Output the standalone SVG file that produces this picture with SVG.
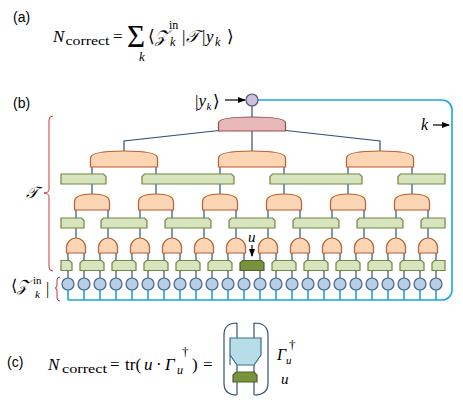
<svg xmlns="http://www.w3.org/2000/svg" width="463" height="405" viewBox="0 0 463 405">
<style>
.ln{fill:none;stroke:#34506f;stroke-width:1.2}
.cy{fill:none;stroke:#1aa7e0;stroke-width:1.6}
.br{fill:none;stroke:#c8383a;stroke-width:1}
.or{fill:#fcd5b5;stroke:#b8612a;stroke-width:1.2}
.gr{fill:#d7e4bd;stroke:#6f8a3e;stroke-width:1.2}
.dg{fill:#77933c;stroke:#4f6228;stroke-width:1.2}
.pk{fill:#e6b9b8;stroke:#9b4b4a;stroke-width:1.2}
.ci{fill:#b9cde5;stroke:#41648f;stroke-width:1.2}
.pu{fill:#ccc1da;stroke:#5f497a;stroke-width:1.2}
.tb{fill:#b7dde8;stroke:#3d6f8a;stroke-width:1.2}
.ar{fill:none;stroke:#000;stroke-width:1.2}
.s{font-family:"Liberation Sans","DejaVu Sans",sans-serif;font-size:14px;fill:#000}
.m{font-family:"Liberation Serif","DejaVu Serif",serif;font-style:italic;fill:#000}
.r{font-family:"Liberation Serif","DejaVu Serif",serif;fill:#000}
</style>
<defs>
<marker id="ah" markerUnits="userSpaceOnUse" markerWidth="8" markerHeight="6" refX="7" refY="3" orient="auto"><path d="M0,0L8,3L0,6Z" fill="#000"/></marker>
</defs>

<!-- (a) -->
<g id="label-a">
<text class="s" x="13" y="22">(a)</text>
<text class="m" x="53" y="42" font-size="17">N</text>
<text class="r" x="65.5" y="45" font-size="13" textLength="44" lengthAdjust="spacingAndGlyphs">correct</text>
<text class="r" x="113" y="42" font-size="17">=</text>
<text class="r" x="127" y="47" font-size="31">Σ</text>
<text class="m" x="139" y="61" font-size="13">k</text>
<text class="r" x="148" y="42" font-size="17">⟨</text>
<text class="m" x="155" y="42" font-size="17">𝒵</text>
<text class="r" x="169" y="29" font-size="12">in</text>
<text class="m" x="170" y="45.5" font-size="12">k</text>
<text class="r" x="182" y="42" font-size="17">|</text>
<text class="m" x="186" y="42" font-size="17">𝒯</text>
<text class="r" x="202" y="42" font-size="17">|</text>
<text class="m" x="206" y="42" font-size="17">y</text>
<text class="m" x="215" y="45.5" font-size="12">k</text>
<text class="r" x="227" y="42" font-size="17">⟩</text>
</g>

<!-- (b) labels -->
<g id="label-b">
<text class="s" x="13" y="108">(b)</text>
<text class="r" x="195" y="107" font-size="17">|</text>
<text class="m" x="198.5" y="106" font-size="17">y</text>
<text class="m" x="206.5" y="110" font-size="11">k</text>
<text class="r" x="213" y="107" font-size="17">⟩</text>
<path class="ar" d="M225,100H245" marker-end="url(#ah)"/>
<text class="m" x="421" y="130" font-size="16">k</text>
<path class="ar" d="M433,125H449" marker-end="url(#ah)"/>
<text class="m" x="26" y="198" font-size="16">𝒯</text>
<text class="r" x="11" y="291" font-size="16">⟨</text>
<text class="m" x="17" y="291" font-size="16">𝒵</text>
<text class="r" x="33" y="284" font-size="11">in</text>
<text class="m" x="35" y="298" font-size="11">k</text>
<text class="r" x="46" y="294" font-size="16">|</text>
<text class="m" x="248" y="242" font-size="15">u</text>
<path class="ar" d="M252,245V256" marker-end="url(#ah)"/>
<path class="br" d="M53,116Q49,116 49,120V189Q49,193 44,193Q49,193 49,197V267Q49,271 53,271"/>
<path class="br" d="M60,277Q57,277 57,280V285Q57,288 55,288Q57,288 57,291V298Q57,301 60,301"/>
</g>

<!-- connectors -->
<g id="connectors">
<path class="cy" d="M258,100H442A10,10 0 0 1 452,110V290A10,10 0 0 1 442,300H68 M68,290V300 M84,290V300 M100,290V300 M116,290V300 M132,290V300 M148,290V300 M164,290V300 M180,290V300 M196,290V300 M212,290V300 M228,290V300 M244,290V300 M260,290V300 M276,290V300 M292,290V300 M308,290V300 M324,290V300 M340,290V300 M356,290V300 M372,290V300 M388,290V300 M404,290V300 M420,290V300 M436,290V300"/>
<path class="ln" d="M68,246V284 M84,246V284 M100,246V284 M116,246V284 M132,246V284 M148,246V284 M164,246V284 M180,246V284 M196,246V284 M212,246V284 M228,246V284 M244,246V284 M260,246V284 M276,246V284 M292,246V284 M308,246V284 M324,246V284 M340,246V284 M356,246V284 M372,246V284 M388,246V284 M404,246V284 M420,246V284 M436,246V284"/>
<path class="ln" d="M76,202V246 M108,202V246 M140,202V246 M172,202V246 M204,202V246 M236,202V246 M268,202V246 M300,202V246 M332,202V246 M364,202V246 M396,202V246 M428,202V246"/>
<path class="ln" d="M92,160V202 M156,160V202 M220,160V202 M284,160V202 M348,160V202 M412,160V202"/>
<path class="ln" d="M124,160V141L219,130.5 M252,160V100 M380,160V141L286,130.5"/>
</g>

<!-- layer 5 green (top wide) -->
<g id="g5-0"><path class="gr" d="M61,184V174H103.5L106,176.5V184Z"/></g>
<g id="g5-1"><path class="gr" d="M142,184V176.5L144.5,174H231.5L234,176.5V184Z"/></g>
<g id="g5-2"><path class="gr" d="M270,184V176.5L272.5,174H359.5L362,176.5V184Z"/></g>
<g id="g5-3"><path class="gr" d="M398,184V176.5L400.5,174H445V184Z"/></g>

<!-- large isometries -->
<g id="w6-0"><path class="or" d="M90.5,167V158C90.5,153.5 102,151 124,151C146,151 157.5,153.5 157.5,158V167Z"/></g>
<g id="w6-1"><path class="or" d="M218.5,167V158C218.5,153.5 230,151 252,151C274,151 285.5,153.5 285.5,158V167Z"/></g>
<g id="w6-2"><path class="or" d="M346.5,167V158C346.5,153.5 358,151 380,151C402,151 413.5,153.5 413.5,158V167Z"/></g>

<!-- top -->
<g id="top"><path class="pk" d="M218.5,131V123C218.5,119 230,117 252,117C274,117 285.5,119 285.5,123V131Z"/></g>
<g id="yk"><circle class="pu" cx="252" cy="100" r="6"/></g>

<!-- medium isometries -->
<g id="w4-0"><path class="or" d="M74.5,210V202C74.5,197 80,194 92,194C104,194 109.5,197 109.5,202V210Z"/></g>
<g id="w4-1"><path class="or" d="M138.5,210V202C138.5,197 144,194 156,194C168,194 173.5,197 173.5,202V210Z"/></g>
<g id="w4-2"><path class="or" d="M202.5,210V202C202.5,197 208,194 220,194C232,194 237.5,197 237.5,202V210Z"/></g>
<g id="w4-3"><path class="or" d="M266.5,210V202C266.5,197 272,194 284,194C296,194 301.5,197 301.5,202V210Z"/></g>
<g id="w4-4"><path class="or" d="M330.5,210V202C330.5,197 336,194 348,194C360,194 365.5,197 365.5,202V210Z"/></g>
<g id="w4-5"><path class="or" d="M394.5,210V202C394.5,197 400,194 412,194C424,194 429.5,197 429.5,202V210Z"/></g>

<!-- layer 3 green -->
<g id="g3-0"><path class="gr" d="M61,228V218H81.5L84,220.5V228Z"/></g>
<g id="g3-1"><path class="gr" d="M101,228V220.5L103.5,218H144.5L147,220.5V228Z"/></g>
<g id="g3-2"><path class="gr" d="M165,228V220.5L167.5,218H208.5L211,220.5V228Z"/></g>
<g id="g3-3"><path class="gr" d="M229,228V220.5L231.5,218H272.5L275,220.5V228Z"/></g>
<g id="g3-4"><path class="gr" d="M293,228V220.5L295.5,218H336.5L339,220.5V228Z"/></g>
<g id="g3-5"><path class="gr" d="M357,228V220.5L359.5,218H400.5L403,220.5V228Z"/></g>
<g id="g3-6"><path class="gr" d="M421,228V220.5L423.5,218H445V228Z"/></g>

<!-- small isometries -->
<g id="w2-0"><path class="or" d="M66.5,253V247.5A9.5,9.5 0 0 1 85.5,247.5V253Z"/></g>
<g id="w2-1"><path class="or" d="M98.5,253V247.5A9.5,9.5 0 0 1 117.5,247.5V253Z"/></g>
<g id="w2-2"><path class="or" d="M130.5,253V247.5A9.5,9.5 0 0 1 149.5,247.5V253Z"/></g>
<g id="w2-3"><path class="or" d="M162.5,253V247.5A9.5,9.5 0 0 1 181.5,247.5V253Z"/></g>
<g id="w2-4"><path class="or" d="M194.5,253V247.5A9.5,9.5 0 0 1 213.5,247.5V253Z"/></g>
<g id="w2-5"><path class="or" d="M226.5,253V247.5A9.5,9.5 0 0 1 245.5,247.5V253Z"/></g>
<g id="w2-6"><path class="or" d="M258.5,253V247.5A9.5,9.5 0 0 1 277.5,247.5V253Z"/></g>
<g id="w2-7"><path class="or" d="M290.5,253V247.5A9.5,9.5 0 0 1 309.5,247.5V253Z"/></g>
<g id="w2-8"><path class="or" d="M322.5,253V247.5A9.5,9.5 0 0 1 341.5,247.5V253Z"/></g>
<g id="w2-9"><path class="or" d="M354.5,253V247.5A9.5,9.5 0 0 1 373.5,247.5V253Z"/></g>
<g id="w2-10"><path class="or" d="M386.5,253V247.5A9.5,9.5 0 0 1 405.5,247.5V253Z"/></g>
<g id="w2-11"><path class="or" d="M418.5,253V247.5A9.5,9.5 0 0 1 437.5,247.5V253Z"/></g>

<!-- layer 1 green -->
<g id="g1-0"><path class="gr" d="M61,270.5V260.5H69.5L72,263V270.5Z"/></g>
<g id="g1-1"><path class="gr" d="M80,270.5V263L82.5,260.5H101.5L104,263V270.5Z"/></g>
<g id="g1-2"><path class="gr" d="M112,270.5V263L114.5,260.5H133.5L136,263V270.5Z"/></g>
<g id="g1-3"><path class="gr" d="M144,270.5V263L146.5,260.5H165.5L168,263V270.5Z"/></g>
<g id="g1-4"><path class="gr" d="M176,270.5V263L178.5,260.5H197.5L200,263V270.5Z"/></g>
<g id="g1-5"><path class="gr" d="M208,270.5V263L210.5,260.5H229.5L232,263V270.5Z"/></g>
<g id="u"><path class="dg" d="M240,270.5V263L242.5,260.5H261.5L264,263V270.5Z"/></g>
<g id="g1-7"><path class="gr" d="M272,270.5V263L274.5,260.5H293.5L296,263V270.5Z"/></g>
<g id="g1-8"><path class="gr" d="M304,270.5V263L306.5,260.5H325.5L328,263V270.5Z"/></g>
<g id="g1-9"><path class="gr" d="M336,270.5V263L338.5,260.5H357.5L360,263V270.5Z"/></g>
<g id="g1-10"><path class="gr" d="M368,270.5V263L370.5,260.5H389.5L392,263V270.5Z"/></g>
<g id="g1-11"><path class="gr" d="M400,270.5V263L402.5,260.5H421.5L424,263V270.5Z"/></g>
<g id="g1-12"><path class="gr" d="M432,270.5V263L434.5,260.5H445V270.5Z"/></g>

<!-- input sites -->
<g id="z0"><circle class="ci" cx="68" cy="284" r="6"/></g>
<g id="z1"><circle class="ci" cx="84" cy="284" r="6"/></g>
<g id="z2"><circle class="ci" cx="100" cy="284" r="6"/></g>
<g id="z3"><circle class="ci" cx="116" cy="284" r="6"/></g>
<g id="z4"><circle class="ci" cx="132" cy="284" r="6"/></g>
<g id="z5"><circle class="ci" cx="148" cy="284" r="6"/></g>
<g id="z6"><circle class="ci" cx="164" cy="284" r="6"/></g>
<g id="z7"><circle class="ci" cx="180" cy="284" r="6"/></g>
<g id="z8"><circle class="ci" cx="196" cy="284" r="6"/></g>
<g id="z9"><circle class="ci" cx="212" cy="284" r="6"/></g>
<g id="z10"><circle class="ci" cx="228" cy="284" r="6"/></g>
<g id="z11"><circle class="ci" cx="244" cy="284" r="6"/></g>
<g id="z12"><circle class="ci" cx="260" cy="284" r="6"/></g>
<g id="z13"><circle class="ci" cx="276" cy="284" r="6"/></g>
<g id="z14"><circle class="ci" cx="292" cy="284" r="6"/></g>
<g id="z15"><circle class="ci" cx="308" cy="284" r="6"/></g>
<g id="z16"><circle class="ci" cx="324" cy="284" r="6"/></g>
<g id="z17"><circle class="ci" cx="340" cy="284" r="6"/></g>
<g id="z18"><circle class="ci" cx="356" cy="284" r="6"/></g>
<g id="z19"><circle class="ci" cx="372" cy="284" r="6"/></g>
<g id="z20"><circle class="ci" cx="388" cy="284" r="6"/></g>
<g id="z21"><circle class="ci" cx="404" cy="284" r="6"/></g>
<g id="z22"><circle class="ci" cx="420" cy="284" r="6"/></g>
<g id="z23"><circle class="ci" cx="436" cy="284" r="6"/></g>

<!-- (c) -->
<g id="label-c">
<text class="s" x="7" y="367">(c)</text>
<text class="m" x="48" y="370" font-size="17">N</text>
<text class="r" x="62" y="373" font-size="13" textLength="45" lengthAdjust="spacingAndGlyphs">correct</text>
<text class="r" x="110" y="370" font-size="17">=</text>
<text class="r" x="125" y="370" font-size="17">tr(</text>
<text class="m" x="144" y="370" font-size="17">u</text>
<text class="r" x="156" y="370" font-size="17">·</text>
<text class="m" x="165" y="370" font-size="17">Γ</text>
<text class="m" x="177" y="374" font-size="12">u</text>
<text class="r" x="182" y="356" font-size="13">†</text>
<text class="r" x="192" y="370" font-size="17">)</text>
<text class="r" x="203" y="370" font-size="17">=</text>
<text class="m" x="277" y="360" font-size="16">Γ</text>
<text class="m" x="286" y="364" font-size="11">u</text>
<text class="r" x="289" y="349" font-size="13">†</text>
<text class="m" x="281" y="384" font-size="15">u</text>
</g>
<g id="trace">
<path class="ln" d="M237,323Q224,323 224,335V383Q224,395 237,395 M254,323Q268,323 268,335V383Q268,395 254,395 M237,323V395 M254,323V395"/>
</g>
<g id="gamma"><path class="tb" d="M230,365V338H261V355L254,365H237L230,355Z"/></g>
<g id="u-c"><path class="dg" d="M233,382V375L236,372H254L257,375V382Z"/></g>
</svg>
